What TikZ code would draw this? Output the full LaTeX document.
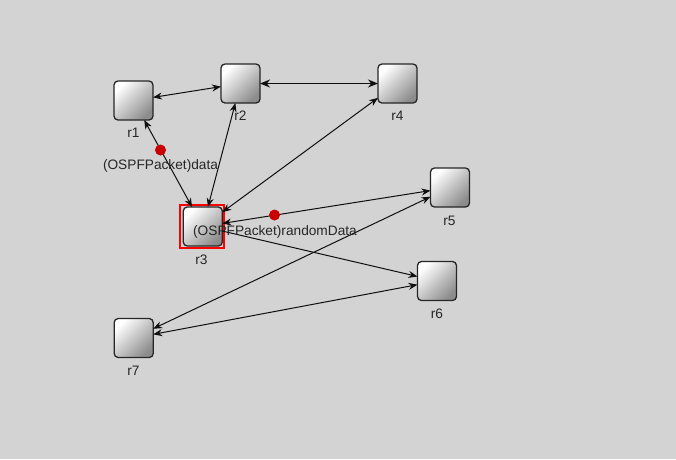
\documentclass[tikz,border=0pt]{standalone}
\usepackage{fontspec}
\setmainfont{Liberation Sans}
\usetikzlibrary{arrows.meta}
\definecolor{bgc}{RGB}{211,211,211}
\definecolor{dotc}{RGB}{200,0,0}
\definecolor{edgec}{RGB}{15,15,15}
\begin{document}
\begin{tikzpicture}[x=1pt,y=-1pt,
  router/.style={draw=black!85, line width=1.3pt, rounded corners=4pt, minimum size=39pt,
    inner sep=0pt, outer sep=0pt, top color=white, bottom color=black!45, shading angle=45},
  lbl/.style={font=\fontsize{13.7}{15}\selectfont, text=black!85, inner sep=0pt},
  tip/.tip={Stealth[length=9pt,width=7pt]},
  link/.style={draw=edgec, line width=1pt, tip-tip},
  onelink/.style={draw=edgec, line width=1pt, -tip},
  thick link/.style={draw=edgec, line width=1.8pt, {Stealth[length=10pt,width=8pt]}-{Stealth[length=10pt,width=8pt]}},
  msgdot/.style={circle, fill=dotc, minimum size=11pt, inner sep=0pt},
]
\fill[bgc] (0,0) rectangle (676,459);
\useasboundingbox (0,0) rectangle (676,459);

% routers
\node[router] (r1) at (133.5,100.5) {};
\node[router] (r2) at (240.5,83.5) {};
\node[router] (r4) at (397.5,83.5) {};
\node[router] (r3) at (202.8,226.5) {};
\node[router] (r5) at (450,187.5) {};
\node[router] (r6) at (437,281) {};
\node[router] (r7) at (133.7,338) {};

% selection frame around r3
\node[draw=red, line width=2pt, minimum width=44pt, minimum height=43pt, inner sep=0pt] (sel) at (201.7,226) {};

% links
\draw[link] (r1) -- (r2);
\draw[thick link] (r2) -- (r4);
\draw[link] (r1) -- (r3);
\draw[link] (r2) -- (r3);
\draw[link] (r4) -- (r3);
\draw[link] (r3) -- (r5);
\draw[onelink] (r3) -- (r6);
\draw[link] (r5) -- (r7);
\draw[link] (r6) -- (r7);

% labels
\node[lbl] (l1) at (133.5,133) {r1};
\node[lbl] (l2) at (240.5,116) {r2};
\node[lbl] (l4) at (397.5,116) {r4};
\node[lbl] (l3) at (201.5,260) {r3};
\node[lbl] (l5) at (449.5,221) {r5};
\node[lbl] (l6) at (437,313.5) {r6};
\node[lbl] (l7) at (133.5,371) {r7};

% messages
\node[msgdot] (m1) at (160.5,150) {};
\node[msgdot] (m2) at (274.5,215) {};
\node[lbl] (ml1) at (160.5,166) {(OSPFPacket)data};
\node[lbl] (ml2) at (275,232) {(OSPFPacket)randomData};
\end{tikzpicture}
\end{document}
